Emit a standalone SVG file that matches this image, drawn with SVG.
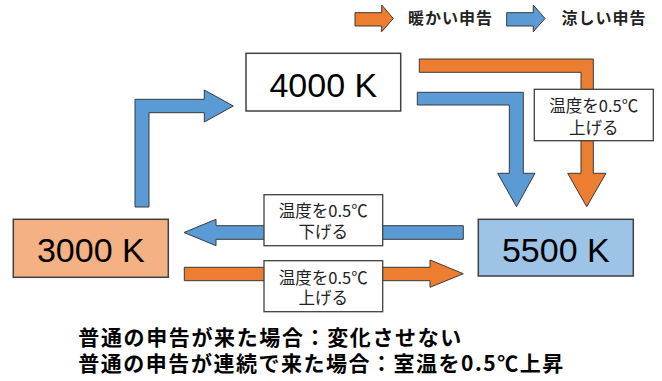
<svg xmlns="http://www.w3.org/2000/svg" width="662" height="381" viewBox="0 0 662 381">
<style>
.warm{fill:#ED7D31;stroke:#3a3a3a;stroke-width:1}
.cool{fill:#5B9BD5;stroke:#3a3a3a;stroke-width:1}
.box{stroke:#404040;stroke-width:1.5}
.num{font-family:"Liberation Sans",Arial,sans-serif;font-size:34px;fill:#000;text-anchor:middle}
.lbl{fill:#fff;stroke:#404040;stroke-width:1.3}
.lt{font-family:"Noto Sans CJK JP","Noto Sans",sans-serif;font-size:16.5px;fill:#222;text-anchor:middle}
.leg{font-family:"Noto Sans CJK JP","Noto Sans",sans-serif;font-size:16px;font-weight:bold;fill:#222}
.note{font-family:"Noto Sans CJK JP","Noto Sans",sans-serif;font-size:21px;font-weight:bold;fill:#000}
</style>
<rect width="662" height="381" fill="#fff"/>
<g id="legend">
<polygon class="warm" points="355,12.7 381.7,12.7 381.7,5 393.3,18.5 381.7,31.7 381.7,26 355,26"/>
<text class="leg" x="408" y="24" textLength="84" lengthAdjust="spacing">暖かい申告</text>
<polygon class="cool" points="506.7,12.7 533.3,12.7 533.3,5 545,18.5 533.3,31.7 533.3,26 506.7,26"/>
<text class="leg" x="561.5" y="24" textLength="84" lengthAdjust="spacing">涼しい申告</text>
</g>
<g id="connectors">
<polygon class="cool" points="135,207 135,99.3 204.3,99.3 204.3,90 233.3,106 204.3,122 204.3,112.7 149,112.7 149,207"/>
<polygon class="warm" points="419.3,59 593.3,59 593.3,173.3 606,173.3 586.7,206.7 567.7,173.3 581,173.3 581,72.3 419.3,72.3"/>
<polygon class="cool" points="417.3,92.3 523.3,92.3 523.3,173.3 535,173.3 516.5,206.7 497.7,173.3 509.3,173.3 509.3,105 417.3,105"/>
<polygon class="cool" points="463.3,225.7 216,225.7 216,219.3 184,232.5 216,245.7 216,239.3 463.3,239.3"/>
<polygon class="warm" points="184.3,267.3 430,267.3 430,260 463.3,273.7 430,287.3 430,280.7 184.3,280.7"/>
<g id="label-up-right">
<rect class="lbl" x="534.3" y="89.3" width="119" height="51.4"/>
<text class="lt" x="593.8" y="112">温度を0.5℃</text>
<text class="lt" x="593.8" y="133.5">上げる</text>
</g>
<g id="label-down">
<rect class="lbl" x="264" y="194.7" width="118.7" height="51"/>
<text class="lt" x="323.3" y="217">温度を0.5℃</text>
<text class="lt" x="323.3" y="237.5">下げる</text>
</g>
<g id="label-up">
<rect class="lbl" x="264" y="260.7" width="118.7" height="51"/>
<text class="lt" x="323.3" y="283.5">温度を0.5℃</text>
<text class="lt" x="323.3" y="304">上げる</text>
</g>
</g>
<g id="node-4000">
<rect class="box" x="246" y="53.3" width="154.7" height="57.7" fill="#fff"/>
<text class="num" x="323.3" y="96.7">4000 K</text>
</g>
<g id="node-3000">
<rect class="box" x="13.3" y="219.3" width="155" height="58" fill="#F4B183"/>
<text class="num" x="90.8" y="261.5">3000 K</text>
</g>
<g id="node-5500">
<rect class="box" x="478.3" y="219.3" width="155" height="56.7" fill="#9DC3E6"/>
<text class="num" x="555.8" y="261.5">5500 K</text>
</g>
<g id="notes">
<text class="note" x="78.3" y="345" textLength="383" lengthAdjust="spacing">普通の申告が来た場合：変化させない</text>
<text class="note" x="78.3" y="371" textLength="485" lengthAdjust="spacing">普通の申告が連続で来た場合：室温を0.5℃上昇</text>
</g>
</svg>
